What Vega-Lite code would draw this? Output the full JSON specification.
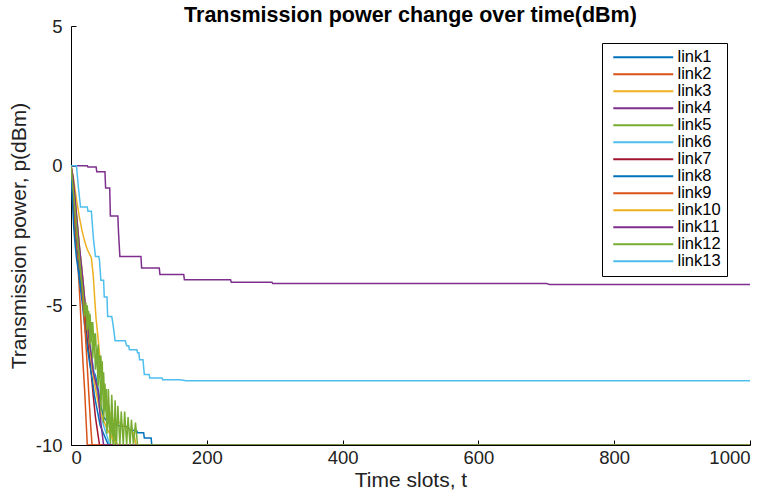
{
  "$schema": "https://vega.github.io/schema/vega-lite/v6.json",
  "width": 679,
  "height": 419,
  "autosize": {"type": "none"},
  "padding": {"left": 71, "top": 26, "right": 20, "bottom": 55},
  "background": "white",
  "title": {"text": "Transmission power change over time(dBm)", "font": "Liberation Sans", "fontSize": 21.5, "fontWeight": "bold", "color": "black", "offset": -9},
  "config": {"view": {"stroke": null}, "font": "Liberation Sans"},
  "data": {"values": [
{"link":"link1","t":0,"p":0},{"link":"link1","t":2,"p":-0.6},{"link":"link1","t":4,"p":-1.4},{"link":"link1","t":6,"p":-2.2},{"link":"link1","t":8,"p":-2.8},{"link":"link1","t":10,"p":-3.3},{"link":"link1","t":13,"p":-3.9},{"link":"link1","t":16,"p":-4.6},{"link":"link1","t":19,"p":-5.2},{"link":"link1","t":22,"p":-5.8},{"link":"link1","t":25,"p":-6.5},{"link":"link1","t":28,"p":-7.0},{"link":"link1","t":32,"p":-7.3},{"link":"link1","t":36,"p":-7.5},{"link":"link1","t":40,"p":-8.0},{"link":"link1","t":44,"p":-8.6},{"link":"link1","t":48,"p":-9.0},{"link":"link1","t":55,"p":-9.2},{"link":"link1","t":70,"p":-9.3},{"link":"link1","t":84,"p":-9.35},{"link":"link1","t":86,"p":-9.45},{"link":"link1","t":97,"p":-9.5},{"link":"link1","t":98,"p":-9.56},{"link":"link1","t":107,"p":-9.56},{"link":"link1","t":108,"p":-9.75},{"link":"link1","t":118,"p":-9.75},{"link":"link1","t":119,"p":-10},{"link":"link1","t":1000,"p":-10},
{"link":"link2","t":0,"p":0},{"link":"link2","t":2,"p":-0.8},{"link":"link2","t":4,"p":-1.6},{"link":"link2","t":6,"p":-2.4},{"link":"link2","t":8,"p":-3.0},{"link":"link2","t":10,"p":-3.5},{"link":"link2","t":12,"p":-4.3},{"link":"link2","t":14,"p":-5.2},{"link":"link2","t":16,"p":-6.3},{"link":"link2","t":18,"p":-7.2},{"link":"link2","t":20,"p":-8.0},{"link":"link2","t":22,"p":-9.0},{"link":"link2","t":24,"p":-10},{"link":"link2","t":1000,"p":-10},
{"link":"link3","t":0,"p":0},{"link":"link3","t":4,"p":-0.5},{"link":"link3","t":8,"p":-1.2},{"link":"link3","t":12,"p":-1.8},{"link":"link3","t":16,"p":-2.3},{"link":"link3","t":20,"p":-2.7},{"link":"link3","t":24,"p":-3.0},{"link":"link3","t":30,"p":-3.3},{"link":"link3","t":33,"p":-4.0},{"link":"link3","t":35,"p":-4.8},{"link":"link3","t":37,"p":-5.5},{"link":"link3","t":40,"p":-6.2},{"link":"link3","t":43,"p":-7.0},{"link":"link3","t":46,"p":-7.6},{"link":"link3","t":50,"p":-8.2},{"link":"link3","t":55,"p":-8.7},{"link":"link3","t":62,"p":-9.1},{"link":"link3","t":72,"p":-9.2},{"link":"link3","t":82,"p":-9.4},{"link":"link3","t":92,"p":-9.55},{"link":"link3","t":96,"p":-10},{"link":"link3","t":1000,"p":-10},
{"link":"link4","t":0,"p":0},{"link":"link4","t":24,"p":0},{"link":"link4","t":25,"p":-0.05},{"link":"link4","t":37,"p":-0.05},{"link":"link4","t":38,"p":-0.22},{"link":"link4","t":50,"p":-0.22},{"link":"link4","t":51,"p":-0.8},{"link":"link4","t":57,"p":-0.8},{"link":"link4","t":58,"p":-1.8},{"link":"link4","t":69,"p":-1.8},{"link":"link4","t":70,"p":-2.4},{"link":"link4","t":72,"p":-3.25},{"link":"link4","t":103,"p":-3.25},{"link":"link4","t":104,"p":-3.66},{"link":"link4","t":130,"p":-3.66},{"link":"link4","t":131,"p":-3.9},{"link":"link4","t":166,"p":-3.9},{"link":"link4","t":167,"p":-4.08},{"link":"link4","t":235,"p":-4.08},{"link":"link4","t":236,"p":-4.17},{"link":"link4","t":296,"p":-4.17},{"link":"link4","t":297,"p":-4.22},{"link":"link4","t":700,"p":-4.22},{"link":"link4","t":705,"p":-4.25},{"link":"link4","t":1000,"p":-4.25},
{"link":"link5","t":0,"p":0},{"link":"link5","t":3,"p":-0.5},{"link":"link5","t":6,"p":-1.2},{"link":"link5","t":9,"p":-2.0},{"link":"link5","t":12,"p":-2.8},{"link":"link5","t":15,"p":-3.5},{"link":"link5","t":18,"p":-4.3},{"link":"link5","t":20,"p":-4.8},{"link":"link5","t":22,"p":-5.6},{"link":"link5","t":24,"p":-5.0},{"link":"link5","t":26,"p":-6.0},{"link":"link5","t":28,"p":-5.3},{"link":"link5","t":30,"p":-6.3},{"link":"link5","t":32,"p":-5.6},{"link":"link5","t":34,"p":-6.6},{"link":"link5","t":36,"p":-6.0},{"link":"link5","t":38,"p":-7.0},{"link":"link5","t":40,"p":-6.4},{"link":"link5","t":42,"p":-7.6},{"link":"link5","t":44,"p":-6.8},{"link":"link5","t":46,"p":-8.2},{"link":"link5","t":48,"p":-7.4},{"link":"link5","t":50,"p":-8.8},{"link":"link5","t":52,"p":-8.0},{"link":"link5","t":54,"p":-9.4},{"link":"link5","t":56,"p":-8.6},{"link":"link5","t":58,"p":-10},{"link":"link5","t":60,"p":-8.9},{"link":"link5","t":62,"p":-10},{"link":"link5","t":64,"p":-9.2},{"link":"link5","t":66,"p":-10},{"link":"link5","t":1000,"p":-10},
{"link":"link6","t":0,"p":0},{"link":"link6","t":2,"p":-0.5},{"link":"link6","t":5,"p":-1.3},{"link":"link6","t":8,"p":-2.1},{"link":"link6","t":11,"p":-2.9},{"link":"link6","t":14,"p":-3.6},{"link":"link6","t":17,"p":-4.3},{"link":"link6","t":20,"p":-5.0},{"link":"link6","t":24,"p":-5.7},{"link":"link6","t":28,"p":-6.4},{"link":"link6","t":32,"p":-7.1},{"link":"link6","t":36,"p":-7.7},{"link":"link6","t":40,"p":-8.3},{"link":"link6","t":44,"p":-8.9},{"link":"link6","t":48,"p":-9.3},{"link":"link6","t":52,"p":-9.6},{"link":"link6","t":57,"p":-10},{"link":"link6","t":1000,"p":-10},
{"link":"link7","t":0,"p":0},{"link":"link7","t":3,"p":-0.8},{"link":"link7","t":6,"p":-1.6},{"link":"link7","t":9,"p":-2.3},{"link":"link7","t":12,"p":-3.1},{"link":"link7","t":15,"p":-3.9},{"link":"link7","t":18,"p":-4.5},{"link":"link7","t":21,"p":-5.3},{"link":"link7","t":24,"p":-6.0},{"link":"link7","t":27,"p":-6.8},{"link":"link7","t":30,"p":-7.5},{"link":"link7","t":33,"p":-8.3},{"link":"link7","t":36,"p":-9.0},{"link":"link7","t":39,"p":-9.5},{"link":"link7","t":42,"p":-10},{"link":"link7","t":1000,"p":-10},
{"link":"link8","t":0,"p":0},{"link":"link8","t":2,"p":-1.2},{"link":"link8","t":4,"p":-2.2},{"link":"link8","t":6,"p":-2.8},{"link":"link8","t":8,"p":-3.3},{"link":"link8","t":11,"p":-3.8},{"link":"link8","t":14,"p":-4.4},{"link":"link8","t":17,"p":-5.0},{"link":"link8","t":20,"p":-5.7},{"link":"link8","t":23,"p":-6.3},{"link":"link8","t":27,"p":-7.0},{"link":"link8","t":31,"p":-7.6},{"link":"link8","t":35,"p":-8.3},{"link":"link8","t":39,"p":-8.8},{"link":"link8","t":43,"p":-9.3},{"link":"link8","t":48,"p":-9.6},{"link":"link8","t":55,"p":-10},{"link":"link8","t":1000,"p":-10},
{"link":"link9","t":0,"p":0},{"link":"link9","t":3,"p":-0.5},{"link":"link9","t":6,"p":-1.5},{"link":"link9","t":9,"p":-2.5},{"link":"link9","t":12,"p":-3.3},{"link":"link9","t":15,"p":-4.0},{"link":"link9","t":18,"p":-5.0},{"link":"link9","t":21,"p":-6.0},{"link":"link9","t":24,"p":-7.2},{"link":"link9","t":27,"p":-8.5},{"link":"link9","t":29,"p":-9.3},{"link":"link9","t":31,"p":-10},{"link":"link9","t":1000,"p":-10},
{"link":"link10","t":0,"p":0},{"link":"link10","t":3,"p":-0.6},{"link":"link10","t":6,"p":-1.4},{"link":"link10","t":9,"p":-2.1},{"link":"link10","t":12,"p":-2.9},{"link":"link10","t":15,"p":-3.5},{"link":"link10","t":18,"p":-4.2},{"link":"link10","t":21,"p":-5.0},{"link":"link10","t":24,"p":-5.8},{"link":"link10","t":28,"p":-6.6},{"link":"link10","t":32,"p":-7.4},{"link":"link10","t":36,"p":-8.0},{"link":"link10","t":41,"p":-8.6},{"link":"link10","t":47,"p":-9.1},{"link":"link10","t":55,"p":-9.5},{"link":"link10","t":62,"p":-9.8},{"link":"link10","t":70,"p":-10},{"link":"link10","t":1000,"p":-10},
{"link":"link11","t":0,"p":0},{"link":"link11","t":3,"p":-0.4},{"link":"link11","t":6,"p":-1.2},{"link":"link11","t":9,"p":-2.0},{"link":"link11","t":12,"p":-2.8},{"link":"link11","t":15,"p":-3.5},{"link":"link11","t":18,"p":-4.2},{"link":"link11","t":21,"p":-5.0},{"link":"link11","t":24,"p":-5.6},{"link":"link11","t":27,"p":-6.3},{"link":"link11","t":30,"p":-6.8},{"link":"link11","t":33,"p":-7.4},{"link":"link11","t":37,"p":-7.8},{"link":"link11","t":40,"p":-8.1},{"link":"link11","t":43,"p":-9.0},{"link":"link11","t":46,"p":-9.6},{"link":"link11","t":48,"p":-10},{"link":"link11","t":1000,"p":-10},
{"link":"link12","t":0,"p":0},{"link":"link12","t":3,"p":-0.8},{"link":"link12","t":6,"p":-1.6},{"link":"link12","t":9,"p":-2.4},{"link":"link12","t":12,"p":-3.2},{"link":"link12","t":15,"p":-4.0},{"link":"link12","t":18,"p":-4.6},{"link":"link12","t":20,"p":-5.4},{"link":"link12","t":22,"p":-4.9},{"link":"link12","t":24,"p":-5.9},{"link":"link12","t":26,"p":-5.2},{"link":"link12","t":28,"p":-6.4},{"link":"link12","t":30,"p":-5.6},{"link":"link12","t":32,"p":-6.9},{"link":"link12","t":34,"p":-6.0},{"link":"link12","t":36,"p":-7.3},{"link":"link12","t":38,"p":-6.6},{"link":"link12","t":40,"p":-7.9},{"link":"link12","t":42,"p":-6.8},{"link":"link12","t":44,"p":-8.8},{"link":"link12","t":46,"p":-7.0},{"link":"link12","t":48,"p":-9.2},{"link":"link12","t":50,"p":-7.8},{"link":"link12","t":53,"p":-9.6},{"link":"link12","t":55,"p":-8.0},{"link":"link12","t":58,"p":-9.8},{"link":"link12","t":60,"p":-8.2},{"link":"link12","t":63,"p":-10},{"link":"link12","t":65,"p":-8.4},{"link":"link12","t":67,"p":-10},{"link":"link12","t":69,"p":-8.6},{"link":"link12","t":72,"p":-10},{"link":"link12","t":74,"p":-8.8},{"link":"link12","t":77,"p":-10},{"link":"link12","t":79,"p":-8.8},{"link":"link12","t":82,"p":-10},{"link":"link12","t":84,"p":-9.0},{"link":"link12","t":87,"p":-10},{"link":"link12","t":89,"p":-9.1},{"link":"link12","t":92,"p":-10},{"link":"link12","t":95,"p":-9.2},{"link":"link12","t":98,"p":-10},{"link":"link12","t":1000,"p":-10},
{"link":"link13","t":0,"p":0},{"link":"link13","t":8,"p":0},{"link":"link13","t":11,"p":-0.8},{"link":"link13","t":14,"p":-1.48},{"link":"link13","t":24,"p":-1.48},{"link":"link13","t":25,"p":-1.63},{"link":"link13","t":30,"p":-1.63},{"link":"link13","t":33,"p":-2.6},{"link":"link13","t":36,"p":-3.25},{"link":"link13","t":41,"p":-3.25},{"link":"link13","t":42,"p":-3.4},{"link":"link13","t":44,"p":-4.1},{"link":"link13","t":48,"p":-4.1},{"link":"link13","t":49,"p":-4.7},{"link":"link13","t":53,"p":-4.7},{"link":"link13","t":54,"p":-5.4},{"link":"link13","t":60,"p":-5.4},{"link":"link13","t":62,"p":-5.7},{"link":"link13","t":65,"p":-6.27},{"link":"link13","t":80,"p":-6.27},{"link":"link13","t":82,"p":-6.45},{"link":"link13","t":85,"p":-6.45},{"link":"link13","t":86,"p":-6.59},{"link":"link13","t":97,"p":-6.59},{"link":"link13","t":98,"p":-6.7},{"link":"link13","t":100,"p":-6.7},{"link":"link13","t":101,"p":-6.95},{"link":"link13","t":106,"p":-6.95},{"link":"link13","t":108,"p":-7.48},{"link":"link13","t":115,"p":-7.48},{"link":"link13","t":116,"p":-7.6},{"link":"link13","t":134,"p":-7.6},{"link":"link13","t":135,"p":-7.66},{"link":"link13","t":160,"p":-7.66},{"link":"link13","t":170,"p":-7.7},{"link":"link13","t":1000,"p":-7.7}
  ]},
  "mark": {"type": "line", "strokeWidth": 1.5, "clip": true},
  "encoding": {
    "x": {"field": "t", "type": "quantitative", "scale": {"domain": [0, 1000], "nice": false},
      "axis": {"values": [0, 200, 400, 600, 800, 1000], "labelExpr": "'' + datum.value", "title": "Time slots, t", "grid": false, "domainColor": "black", "tickColor": "black", "tickSize": -5, "labelFontSize": 18.5, "labelColor": "#222", "labelPadding": 8, "titleFontSize": 21, "titleFontWeight": "normal", "titleColor": "#222", "titlePadding": 3, "labelFont": "Liberation Sans", "titleFont": "Liberation Sans"}},
    "y": {"field": "p", "type": "quantitative", "scale": {"domain": [-10, 5], "nice": false, "zero": false},
      "axis": {"values": [-10, -5, 0, 5], "labelExpr": "'' + datum.value", "title": "Transmission power, p(dBm)", "grid": false, "domainColor": "black", "tickColor": "black", "tickSize": -5, "labelFontSize": 18.5, "labelColor": "#222", "labelPadding": 14, "titleFontSize": 21, "titleFontWeight": "normal", "titleColor": "#222", "titlePadding": 6, "labelFont": "Liberation Sans", "titleFont": "Liberation Sans"}},
    "color": {"field": "link", "type": "nominal",
      "scale": {"domain": ["link1","link2","link3","link4","link5","link6","link7","link8","link9","link10","link11","link12","link13"],
        "range": ["#0072BD","#D95319","#EDB120","#7E2F8E","#77AC30","#4DBEEE","#A2142F","#0072BD","#D95319","#EDB120","#7E2F8E","#77AC30","#4DBEEE"]},
      "legend": {"orient": "none", "legendX": 531, "legendY": 17, "title": null, "symbolType": "M-4.2857,0H4.2857", "symbolSize": 196, "symbolStrokeWidth": 2, "symbolOffset": 27, "labelFontSize": 16.5, "labelFont": "Liberation Sans", "labelColor": "black", "strokeColor": "black", "fillColor": "white", "padding": 6, "rowPadding": -0.3, "labelOffset": 26}}
  }
}
